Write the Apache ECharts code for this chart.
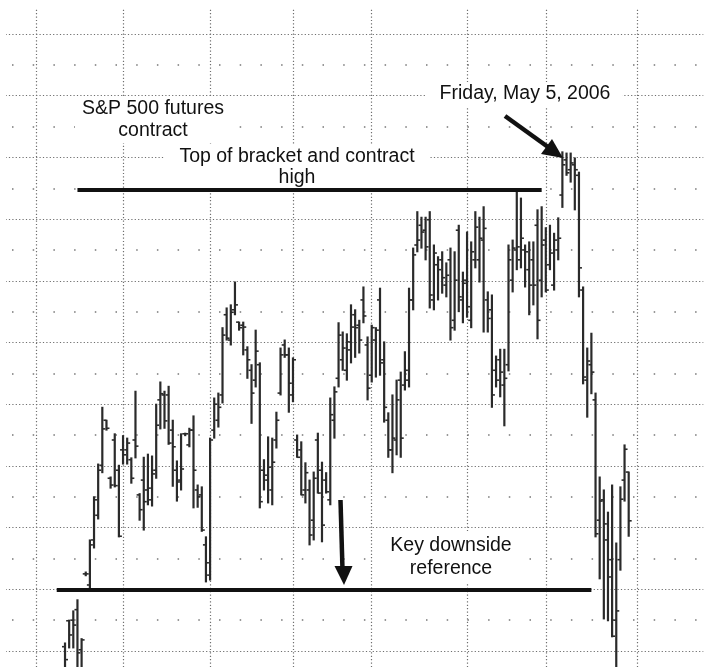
<!DOCTYPE html>
<html><head><meta charset="utf-8">
<script src="https://cdn.jsdelivr.net/npm/echarts@6/dist/echarts.min.js"></script>
<style>html,body{margin:0;padding:0;background:#fff}#c{width:704px;height:667px}</style>
</head><body><div id="c"></div>
<script>
// Trading days shown on the time axis (Oct 2005 - Jun 2006)
const tradingDays = [
'2005-10-19','2005-10-20','2005-10-21','2005-10-24','2005-10-25','2005-10-26','2005-10-27','2005-10-28','2005-10-31',
'2005-11-01','2005-11-02','2005-11-03','2005-11-04','2005-11-07','2005-11-08','2005-11-09','2005-11-10','2005-11-11','2005-11-14','2005-11-15','2005-11-16','2005-11-17','2005-11-18','2005-11-21','2005-11-22','2005-11-23','2005-11-25','2005-11-28','2005-11-29','2005-11-30',
'2005-12-01','2005-12-02','2005-12-05','2005-12-06','2005-12-07','2005-12-08','2005-12-09','2005-12-12','2005-12-13','2005-12-14','2005-12-15','2005-12-16','2005-12-19','2005-12-20','2005-12-21','2005-12-22','2005-12-23','2005-12-27','2005-12-28','2005-12-29','2005-12-30',
'2006-01-03','2006-01-04','2006-01-05','2006-01-06','2006-01-09','2006-01-10','2006-01-11','2006-01-12','2006-01-13','2006-01-17','2006-01-18','2006-01-19','2006-01-20','2006-01-23','2006-01-24','2006-01-25','2006-01-26','2006-01-27','2006-01-30','2006-01-31',
'2006-02-01','2006-02-02','2006-02-03','2006-02-06','2006-02-07','2006-02-08','2006-02-09','2006-02-10','2006-02-13','2006-02-14','2006-02-15','2006-02-16','2006-02-17','2006-02-21','2006-02-22','2006-02-23','2006-02-24','2006-02-27','2006-02-28',
'2006-03-01','2006-03-02','2006-03-03','2006-03-06','2006-03-07','2006-03-08','2006-03-09','2006-03-10','2006-03-13','2006-03-14','2006-03-15','2006-03-16','2006-03-17','2006-03-20','2006-03-21','2006-03-22','2006-03-23','2006-03-24','2006-03-27','2006-03-28','2006-03-29','2006-03-30','2006-03-31',
'2006-04-03','2006-04-04','2006-04-05','2006-04-06','2006-04-07','2006-04-10','2006-04-11','2006-04-12','2006-04-13','2006-04-17','2006-04-18','2006-04-19','2006-04-20','2006-04-21','2006-04-24','2006-04-25','2006-04-26','2006-04-27','2006-04-28',
'2006-05-01','2006-05-02','2006-05-03','2006-05-04','2006-05-05','2006-05-08','2006-05-09','2006-05-10','2006-05-11','2006-05-12','2006-05-15','2006-05-16','2006-05-17','2006-05-18','2006-05-19','2006-05-22','2006-05-23','2006-05-24','2006-05-25','2006-05-26','2006-05-30','2006-05-31',
'2006-06-01','2006-06-02','2006-06-05','2006-06-06','2006-06-07','2006-06-08','2006-06-09','2006-06-12','2006-06-13','2006-06-14','2006-06-15','2006-06-16','2006-06-19','2006-06-20','2006-06-21','2006-06-22','2006-06-23'
];
const firstBarDay = '2005-11-10';

// Daily OHLC, one value per trading day from firstBarDay
const openPx = [
1250.7,1254.9,1255.0,1256.7,1250.2,1262.5,1260.7,1268.0,1272.0,1280.1,
1287.4,1278.0,1284.2,1279.3,1282.6,1282.6,1281.0,1284.2,1275.3,1277.7,
1276.1,1274.5,1279.3,1290.7,1291.5,1291.5,1285.8,1279.3,1277.7,1285.2,
1283.4,1285.8,1276.1,1275.3,1267.2,1262.3,1285.8,1287.4,1291.5,1304.5,
1300.4,1305.3,1303.3,1302.8,1298.8,1295.5,1293.9,1296.4,1279.3,1277.7,
1276.1,1284.2,1291.8,1299.6,1298.0,1291.5,1284.2,1282.6,1276.1,1276.1,
1271.2,1284.2,1279.3,1277.7,1274.5,1287.4,1294.2,1297.2,1295.5,1298.8,
1304.5,1302.8,1306.9,1299.6,1294.7,1300.4,1306.9,1297.2,1287.4,1282.6,
1284.2,1293.9,1293.1,1293.9,1306.9,1315.8,1319.0,1318.2,1319.9,1306.9,
1312.6,1313.4,1309.3,1313.4,1303.6,1318.2,1306.9,1310.1,1303.6,1313.4,
1313.4,1316.6,1306.9,1305.3,1295.5,1297.2,1293.1,1296.4,1310.1,1315.0,
1313.4,1315.0,1311.8,1313.4,1319.0,1310.1,1316.6,1312.6,1309.3,1315.0,
1323.9,1329.6,1328.0,1328.8,1327.1,1308.5,1293.9,1296.4,1290.7,1271.2,
1274.5,1268.0,1264.8,1255.0,1264.8,1277.7,1279.0
];
const highPx = [
1251.3,1255.0,1256.5,1258.3,1252.0,1262.8,1268.0,1275.0,1280.3,1289.5,
1287.4,1278.2,1285.2,1280.1,1284.9,1284.5,1281.3,1292.1,1275.5,1281.4,
1281.9,1281.6,1290.0,1293.6,1292.1,1292.9,1287.4,1280.8,1285.2,1285.3,
1286.1,1288.1,1276.9,1276.6,1268.5,1284.5,1291.0,1291.8,1302.4,1305.6,
1306.1,1309.8,1303.3,1303.3,1299.3,1296.4,1302.0,1296.7,1281.0,1284.7,
1284.5,1288.7,1299.1,1300.4,1299.1,1297.5,1285.0,1283.9,1280.5,1277.7,
1279.0,1285.3,1280.6,1278.9,1291.0,1292.8,1303.2,1301.7,1301.4,1306.1,
1305.3,1303.6,1309.0,1300.9,1302.8,1302.4,1308.8,1300.1,1288.6,1291.5,
1293.9,1295.2,1298.5,1308.8,1315.3,1321.2,1320.3,1320.3,1321.2,1315.8,
1313.9,1314.7,1312.9,1315.3,1314.7,1319.0,1311.4,1317.9,1316.3,1321.2,
1320.3,1322.0,1308.2,1307.7,1297.8,1298.9,1298.9,1315.8,1316.6,1324.4,
1323.4,1315.8,1316.3,1316.3,1321.5,1322.0,1318.6,1319.0,1317.7,1320.2,
1330.9,1330.7,1330.7,1329.9,1327.6,1309.0,1299.1,1301.5,1291.8,1278.2,
1276.1,1272.5,1276.9,1267.5,1276.6,1283.4,1279.0
];
const lowPx = [
1243.7,1250.5,1250.5,1245.3,1245.3,1262.2,1259.9,1266.7,1271.4,1278.9,
1285.8,1276.4,1276.6,1268.5,1280.3,1280.3,1277.2,1281.3,1271.2,1269.6,
1273.7,1273.5,1278.0,1286.0,1286.1,1283.5,1276.7,1274.3,1276.1,1284.9,
1283.1,1273.2,1273.3,1269.4,1261.2,1261.5,1284.5,1286.3,1290.2,1300.4,
1299.6,1304.5,1302.0,1298.0,1294.2,1286.9,1292.8,1273.2,1276.1,1274.0,
1273.7,1282.9,1291.5,1297.6,1288.7,1290.4,1281.4,1275.3,1274.0,1267.2,
1268.0,1275.6,1267.7,1275.6,1273.7,1284.5,1292.8,1295.5,1293.9,1296.7,
1297.6,1298.3,1303.2,1290.7,1293.6,1294.4,1294.7,1287.1,1281.4,1278.9,
1281.8,1281.4,1292.3,1292.8,1305.3,1314.7,1315.3,1313.4,1305.6,1305.3,
1306.9,1308.0,1307.4,1300.4,1302.0,1305.0,1303.2,1304.1,1302.4,1312.1,
1309.8,1301.7,1301.7,1289.5,1292.8,1291.2,1286.5,1295.4,1308.2,1311.8,
1312.1,1309.0,1304.5,1306.1,1300.6,1307.4,1308.2,1311.8,1308.5,1313.4,
1321.9,1327.1,1326.0,1321.5,1307.4,1293.3,1287.9,1291.7,1268.5,1261.7,
1255.2,1254.9,1252.3,1243.7,1263.1,1274.3,1268.6
];
const closePx = [
1248.6,1252.6,1254.2,1249.7,1251.8,1262.5,1267.2,1274.5,1279.3,1286.0,
1286.1,1276.9,1276.8,1268.6,1281.8,1283.7,1278.0,1283.2,1272.9,1274.2,
1276.4,1278.7,1286.6,1291.7,1287.3,1283.7,1283.1,1277.4,1279.5,1285.2,
1285.8,1279.3,1275.0,1269.6,1264.3,1284.2,1290.0,1289.5,1301.2,1300.7,
1304.9,1306.1,1302.4,1302.5,1297.2,1291.8,1298.6,1274.2,1278.5,1279.8,
1280.6,1287.4,1298.0,1298.0,1293.4,1297.2,1281.4,1275.3,1278.9,1268.8,
1278.0,1275.6,1270.4,1275.8,1288.3,1292.0,1301.2,1299.1,1300.1,1302.5,
1302.4,1300.4,1304.3,1292.6,1302.4,1302.0,1296.7,1289.5,1282.6,1284.5,
1290.7,1284.5,1295.5,1306.9,1314.2,1316.6,1317.9,1315.5,1307.7,1314.5,
1311.8,1310.5,1310.9,1302.4,1310.1,1307.4,1309.6,1305.8,1314.7,1318.7,
1316.9,1318.5,1303.9,1291.5,1293.9,1295.2,1294.2,1313.4,1315.3,1315.5,
1316.9,1314.7,1309.3,1309.3,1303.6,1315.8,1308.5,1314.5,1316.6,1316.9,
1328.8,1327.5,1329.1,1328.0,1312.1,1294.4,1297.0,1295.2,1269.0,1274.3,
1270.6,1262.0,1252.4,1256.5,1274.6,1282.7,1271.1
];

// Reference levels
const bracketTop = 1324.7, bracketFrom = '2005-11-15', bracketTo = '2006-04-28';
const downsideRef = 1260.0, downsideFrom = '2005-11-08', downsideTo = '2006-05-16';

// Value-axis ticks
const yMin = 1240, yMax = 1360, yStep = 10;

const startIdx = tradingDays.indexOf(firstBarDay);
const bars = openPx.map((o, i) => [tradingDays[startIdx + i], o, highPx[i], lowPx[i], closePx[i]]);
const monthStart = tradingDays.map((d, i) => i > 0 && d.slice(0, 7) !== tradingDays[i - 1].slice(0, 7));

const BAR = '#2a2a2a';
const FONT = '19.5px "Liberation Sans", Arial, Helvetica, sans-serif';

const chart = echarts.init(document.getElementById('c'), null, {renderer: 'canvas'});
chart.setOption({
  animation: false,
  backgroundColor: '#fff',
  grid: {left: -1.3, right: 0.7, top: -27.7, bottom: -45.7, containLabel: false, outerBoundsMode: 'none'},
  xAxis: {
    type: 'category', data: tradingDays, boundaryGap: false,
    axisLine: {show: false}, axisTick: {show: false}, axisLabel: {show: false},
    splitLine: {show: true, interval: (i) => monthStart[i],
      lineStyle: {color: '#6f6f6f', width: 1.2, type: [1.2, 2.2]}}
  },
  yAxis: {
    type: 'value', min: yMin, max: yMax, interval: yStep,
    axisLine: {show: false}, axisTick: {show: false}, axisLabel: {show: false},
    splitLine: {show: true, lineStyle: {color: '#6f6f6f', width: 1.2, type: [1.2, 2.2]}},
    minorTick: {show: false, splitNumber: 2},
    minorSplitLine: {show: true, lineStyle: {color: '#777', width: 1.5, type: [1.5, 19.2], dashOffset: 7.4}}
  },
  series: [{
    type: 'custom',
    data: bars,
    encode: {x: 0, y: [1, 2, 3, 4]},
    renderItem: function (params, api) {
      const d = api.value(0);
      const o = api.coord([d, api.value(1)]);
      const h = api.coord([d, api.value(2)]);
      const l = api.coord([d, api.value(3)]);
      const c = api.coord([d, api.value(4)]);
      const st = {stroke: BAR, lineWidth: 2.2};
      const tk = {stroke: BAR, lineWidth: 1.6};
      return {type: 'group', children: [
        {type: 'line', shape: {x1: h[0], y1: h[1] - 0.5, x2: l[0], y2: l[1] + 0.5}, style: st},
        {type: 'line', shape: {x1: o[0] - 3, y1: o[1], x2: o[0], y2: o[1]}, style: tk},
        {type: 'line', shape: {x1: c[0], y1: c[1], x2: c[0] + 3, y2: c[1]}, style: tk}
      ]};
    },
    markLine: {
      silent: true, z: 30, symbol: ['none', 'none'], label: {show: false},
      lineStyle: {color: '#111', width: 4, type: 'solid'},
      data: [
        [{coord: [bracketFrom, bracketTop]}, {coord: [bracketTo, bracketTop]}],
        [{coord: [downsideFrom, downsideRef]}, {coord: [downsideTo, downsideRef]}]
      ]
    }
  }],
  graphic: [
    {type: 'rect', z: 1, shape: {x: 0, y: 0, width: 704, height: 9}, style: {fill: '#fff'}},
    {type: 'rect', z: 1, shape: {x: 0, y: 0, width: 6, height: 667}, style: {fill: '#fff'}},
    {type: 'text', z: 10, x: 153, y: 120, style: {text: 'S&P 500 futures\ncontract', font: FONT, fill: '#111',
      align: 'center', verticalAlign: 'middle', lineHeight: 22, backgroundColor: '#fff', padding: [2, 7, 0, 7]}},
    {type: 'text', z: 10, x: 297, y: 167, style: {text: 'Top of bracket and contract\nhigh', font: FONT, fill: '#111',
      align: 'center', verticalAlign: 'middle', lineHeight: 21.5, backgroundColor: '#fff', padding: [1, 15, 0, 15]}},
    {type: 'text', z: 10, x: 524, y: 94, style: {text: 'Friday, May 5, 2006', font: FONT, fill: '#111',
      align: 'center', verticalAlign: 'middle', lineHeight: 22, backgroundColor: '#fff', padding: [1, 12, 1, 14]}},
    {type: 'text', z: 10, x: 451, y: 557, style: {text: 'Key downside\nreference', font: FONT, fill: '#111',
      align: 'center', verticalAlign: 'middle', lineHeight: 23, backgroundColor: '#fff', padding: [3, 8, 3, 8]}},
    {type: 'line', z: 11, shape: {x1: 505, y1: 116, x2: 548, y2: 147}, style: {stroke: '#111', lineWidth: 4.5}},
    {type: 'polygon', z: 11, shape: {points: [[563, 158], [541, 154], [552, 139]]}, style: {fill: '#111'}},
    {type: 'line', z: 11, shape: {x1: 340.5, y1: 500, x2: 342.5, y2: 570}, style: {stroke: '#111', lineWidth: 4.5}},
    {type: 'polygon', z: 11, shape: {points: [[344, 585], [334.5, 566], [352.5, 566]]}, style: {fill: '#111'}}
  ]
});
</script>
</body></html>
